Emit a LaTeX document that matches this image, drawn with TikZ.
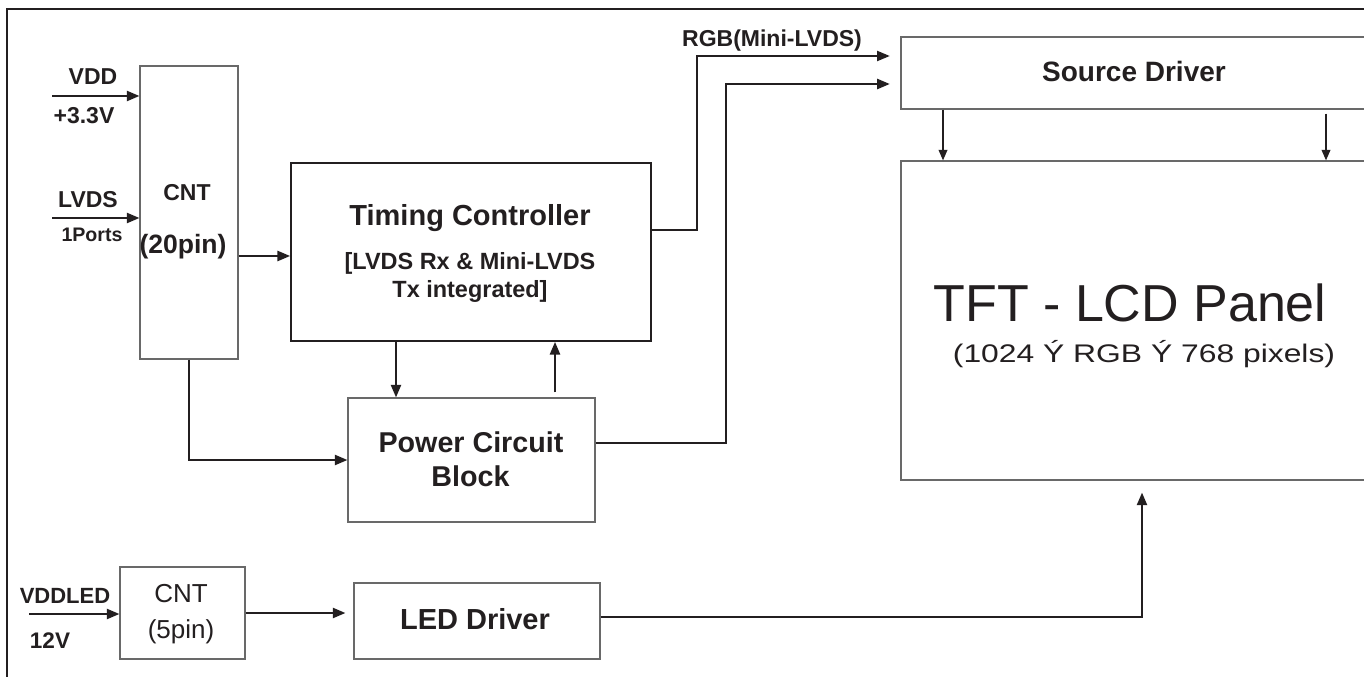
\documentclass[tikz,border=0pt]{standalone}
\usepackage{fontspec}
\setmainfont{Liberation Sans}
\usetikzlibrary{arrows.meta}
\definecolor{ink}{RGB}{35,31,32}
\definecolor{boxgray}{RGB}{105,105,105}
\newcommand{\fsz}[1]{\fontsize{#1}{#1}\selectfont}
\begin{document}
\begin{tikzpicture}[x=0.75pt,y=-0.75pt,
  box/.style={draw=boxgray,line width=0.8pt,inner sep=0},
  tbox/.style={draw=ink,line width=1.3pt,inner sep=0},
  arr/.style={draw=ink,line width=1.75pt,-{Triangle[length=9.5pt,width=7.5pt]}},
  thinarr/.style={draw=ink,line width=1.3pt,-{Triangle[length=8pt,width=6.5pt]}},
  txt/.style={inner sep=0,anchor=base,text=ink},
  bf/.style={font=\bfseries\fsz{#1}},
  rg/.style={font=\fsz{#1}}
  ]
\useasboundingbox (0,0) rectangle (1364,677);
\clip (0,0) rectangle (1364,677);
\fill[white] (0,0) rectangle (1364,677);
\draw[ink,line width=1.6pt] (7,9) rectangle (1400,700);

% boxes
\node[box,minimum width=73.5pt,minimum height=219.75pt] (cnt20) at (189,212.5) {};
\node[tbox,minimum width=270pt,minimum height=133.5pt] (tc) at (471,252) {};
\node[box,minimum width=185.25pt,minimum height=93pt] (pwr) at (471.5,460) {};
\node[box,minimum width=93.75pt,minimum height=69pt] (cnt5) at (182.5,613) {};
\node[box,minimum width=184.5pt,minimum height=57pt] (led) at (477,621) {};
\node[box,minimum width=374.25pt,minimum height=54pt] (src) at (1150.5,73) {};
\node[box,minimum width=374.25pt,minimum height=239.25pt] (tft) at (1150.5,320.5) {};

% texts
\node[txt,bf=17.25pt] (tvdd) at (93,85) {VDD};
\node[txt,bf=17.25pt] (t33) at (84,124) {+3.3V};
\node[txt,bf=17.25pt] (tlvds) at (88,208) {LVDS};
\node[txt,bf=14.7pt] (tports) at (92,242) {1Ports};
\node[txt,bf=17.25pt] (tcnt) at (187,201) {CNT};
\node[txt,bf=19.9pt] (t20) at (183,254) {(20pin)};
\node[txt,bf=21.75pt] (ttc) at (470,226) {Timing Controller};
\node[txt,bf=17.6pt] (ttc2) at (470,270) {[LVDS Rx \& Mini-LVDS};
\node[txt,bf=17.6pt] (ttc3) at (470,298) {Tx integrated]};
\node[txt,bf=17.25pt] (trgb) at (772,47) {RGB(Mini-LVDS)};
\node[txt,bf=21pt] (tsrc) at (1134,82) {Source Driver};
\node[txt,bf=21.5pt] (tpwr) at (471,452) {Power Circuit};
\node[txt,bf=21.5pt] (tpwr2) at (470.5,486) {Block};
\node[txt,bf=21.75pt] (tled) at (475,629) {LED Driver};
\node[txt,rg=19.5pt] (tcnt5) at (181,602) {CNT};
\node[txt,rg=19.5pt] (t5pin) at (181,638) {(5pin)};
\node[txt,bf=16.5pt] (tvddled) at (65,603) {VDDLED};
\node[txt,bf=16.9pt] (t12) at (50,648) {12V};
\node[txt,rg=39pt] (ttft) at (1130,322) {TFT - LCD Panel};
\node[txt,rg=19.1pt] (tpix) at (1144,363) {\scalebox{1.25}[1]{(1024 Ý RGB Ý 768 pixels)}};

% free ends
\coordinate (vddin) at (52,96);
\coordinate (lvdsin) at (52,218);
\coordinate (ledin) at (29,614);

% connectors
\draw[arr] (vddin) -- (vddin -| cnt20.west);
\draw[arr] (lvdsin) -- (lvdsin -| cnt20.west);
\draw[arr] (cnt20.east |- 0,256) -- (tc.west |- 0,256);
\draw[arr] (cnt20.south) |- (pwr.west);
\draw[arr] (tc.south -| 396,0) -- (pwr.north -| 396,0);
\draw[arr] (pwr.north -| 555,0) ++(0,-5) -- (tc.south -| 555,0);
\draw[draw=ink,line width=1.4pt,-{Triangle[length=9.5pt,width=7.5pt]},shorten >=8pt]
  (tc.east |- 0,230) -| (697,56) -- (src.west |- 0,56);
\draw[arr,shorten >=8pt] (pwr.east |- 0,443) -| (726,84) -- (src.west |- 0,84);
\draw[thinarr] (src.south -| 943,0) -- (tft.north -| 943,0);
\draw[thinarr] (src.south -| 1326,0) ++(0,4) -- (tft.north -| 1326,0);
\draw[arr] (ledin) -- (ledin -| cnt5.west);
\draw[arr,shorten >=6pt] (cnt5.east |- 0,613) -- (led.west |- 0,613);
\draw[arr,shorten >=9pt] (led.east |- 0,617) -| (tft.south -| 1142,0);
\end{tikzpicture}
\end{document}
